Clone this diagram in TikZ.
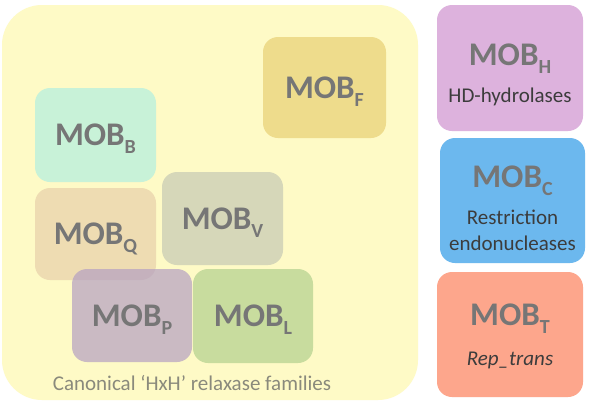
\documentclass[tikz,border=0pt]{standalone}
\usepackage{fontspec}
\setmainfont{Carlito}
\definecolor{bigyellow}{HTML}{FEFAC6}
\definecolor{cF}{HTML}{EEDC8C}
\definecolor{cB}{HTML}{C8F2D8}
\definecolor{cQ}{HTML}{EEDCB2}
\definecolor{cV}{HTML}{D6D7B9}
\definecolor{cP}{HTML}{B4A0C3}
\definecolor{cL}{HTML}{C8DC9E}
\definecolor{cH}{HTML}{DDB2DD}
\definecolor{cC}{HTML}{6CB8EE}
\definecolor{cT}{HTML}{FDA68C}
\definecolor{mobgray}{HTML}{767676}
\definecolor{descgray}{HTML}{3C3C3C}
\definecolor{capgray}{HTML}{8A8A7C}
\newcommand{\mob}[1]{\textbf{MOB\raisebox{-8pt}[0pt][0pt]{\fontsize{20}{20}\selectfont #1}}}
\tikzset{
  mobbox/.style={rounded corners=15pt, inner sep=0pt, text=mobgray,
    font=\fontsize{33}{36}\selectfont, align=center},
  mobtext/.style={text=mobgray, font=\fontsize{33}{36}\selectfont, inner sep=0pt, anchor=base},
  desc/.style={text=descgray, font=\fontsize{21}{26}\selectfont, align=center, inner sep=0pt},
}
\begin{document}
\begin{tikzpicture}[x=1pt,y=-1pt]
\useasboundingbox (0,0) rectangle (596,407);
\fill[white] (0,0) rectangle (596,407);
% big container
\node[rounded corners=40pt, fill=bigyellow, minimum width=416pt, minimum height=395pt, inner sep=0pt] (big) at (210,202.5) {};
\node[text=capgray, font=\fontsize{21}{24}\selectfont, inner sep=0pt] (cap) at (192,383) {Canonical ‘HxH’ relaxase families};
% inner boxes
\node[mobbox, fill=cF, minimum width=123pt, minimum height=101pt] (F) at (324.5,87.5) {\mob{F}};
\node[mobbox, fill=cB, minimum width=121pt, minimum height=94pt] (B) at (95.5,135) {\mob{B}};
\node[mobbox, fill=cQ, minimum width=121pt, minimum height=92pt] (Q) at (95.5,234) {\mob{Q}};
\node[mobbox, fill=cV, minimum width=121pt, minimum height=93pt] (V) at (222.5,218.5) {\mob{V}};
\node[mobbox, fill=cP, fill opacity=0.7, text opacity=1, minimum width=120pt, minimum height=93pt] (P) at (132,315.5) {\mob{P}};
\node[mobbox, fill=cL, minimum width=120pt, minimum height=94pt] (L) at (253,316) {\mob{L}};
% right boxes
\node[mobbox, fill=cH, minimum width=146pt, minimum height=126pt] (H) at (510,68) {};
\node[mobtext] (Ht) at (510,65) {\mob{H}};
\node[desc] (Hd) at (510,97) {HD-hydrolases};
\node[mobbox, fill=cC, minimum width=145pt, minimum height=125pt] (C) at (512.5,200.5) {};
\node[mobtext] (Ct) at (512.5,187) {\mob{C}};
\node[desc] (Cd) at (512.5,230) {Restriction\\endonucleases};
\node[mobbox, fill=cT, minimum width=146pt, minimum height=125pt] (T) at (510,334.5) {};
\node[mobtext] (Tt) at (510,325) {\mob{T}};
\node[desc, font=\fontsize{21}{26}\selectfont\itshape] (Td) at (510,360) {Rep\_trans};
\end{tikzpicture}
\end{document}
